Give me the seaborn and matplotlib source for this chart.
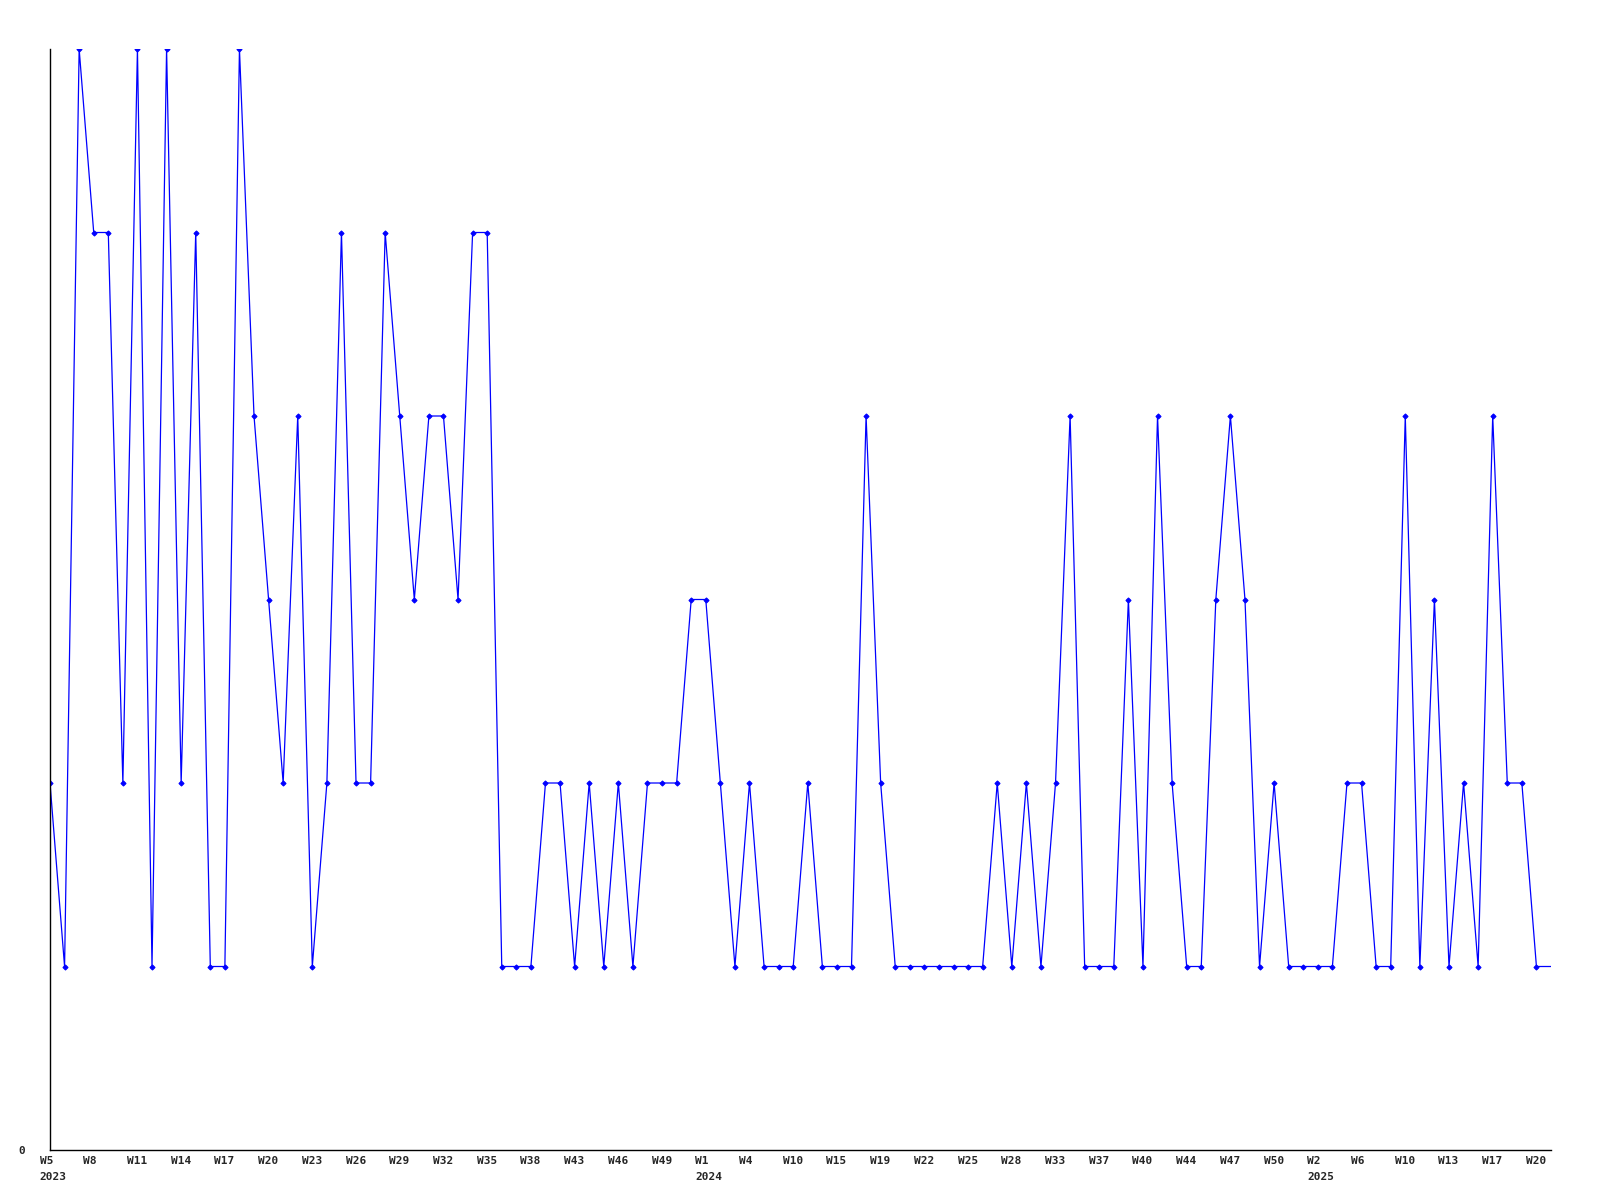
import seaborn as sns
import pandas as pd
import matplotlib.pyplot as plt
from matplotlib.transforms import ScaledTranslation

# weekly values, one per point
values = [2, 1, 6, 5, 5, 2, 6, 1, 6, 2, 5, 1, 1, 6, 4, 3, 2, 4, 1, 2,
          5, 2, 2, 5, 4, 3, 4, 4, 3, 5, 5, 1, 1, 1, 2, 2, 1, 2, 1, 2,
          1, 2, 2, 2, 3, 3, 2, 1, 2, 1, 1, 1, 2, 1, 1, 1, 4, 2, 1, 1,
          1, 1, 1, 1, 1, 2, 1, 2, 1, 2, 4, 1, 1, 1, 3, 1, 4, 2, 1, 1,
          3, 4, 3, 1, 2, 1, 1, 1, 1, 2, 2, 1, 1, 4, 1, 3, 1, 2, 1, 4,
          2, 2, 1, 1]

# a label on every third point
tick_labels = ["W5\n2023", "W8", "W11", "W14", "W17", "W20", "W23", "W26", "W29",
               "W32", "W35", "W38", "W43", "W46", "W49", "W1\n2024", "W4", "W10",
               "W15", "W19", "W22", "W25", "W28", "W33", "W37", "W40", "W44",
               "W47", "W50", "W2\n2025", "W6", "W10", "W13", "W17", "W20"]

df = pd.DataFrame({"idx": range(len(values)), "value": values})

sns.set_style("white")
plt.rcParams['font.family'] = ['DejaVu Sans Mono', 'DejaVu Sans']

fig = plt.figure(figsize=(16, 12), dpi=100)
ax = fig.add_axes([50 / 1600, 50 / 1200, 1501 / 1600, 1101 / 1200])

sns.lineplot(data=df, x="idx", y="value", ax=ax, color="#0000ff",
             linewidth=0.9, marker="D", markersize=2.6,
             markeredgecolor="#0000ff", markerfacecolor="#0000ff",
             markevery=list(range(len(values) - 1)))

ax.set_xlim(0, len(values) - 1)
ax.set_ylim(0, 6)

ax.set_xticks(range(0, len(values), 3))
ax.set_xticklabels(tick_labels, fontsize=8, fontweight="bold", linespacing=1.75)
ax.set_yticks([0])
ax.set_yticklabels(["0"], fontsize=8, fontweight="bold")
ax.tick_params(axis="x", length=0, pad=4)
ax.tick_params(axis="y", length=0, pad=18)

shift = ScaledTranslation(-10.5 / 100, 0, fig.dpi_scale_trans)
for lab in ax.get_xticklabels():
    lab.set_horizontalalignment("left")
    lab.set_multialignment("left")
    lab.set_transform(lab.get_transform() + shift)

ax.set_xlabel("")
ax.set_ylabel("")
for side in ["top", "right"]:
    ax.spines[side].set_visible(False)
for side in ["left", "bottom"]:
    ax.spines[side].set_color("black")
    ax.spines[side].set_linewidth(1)

fig.savefig("out.png", dpi=100, facecolor="white")
